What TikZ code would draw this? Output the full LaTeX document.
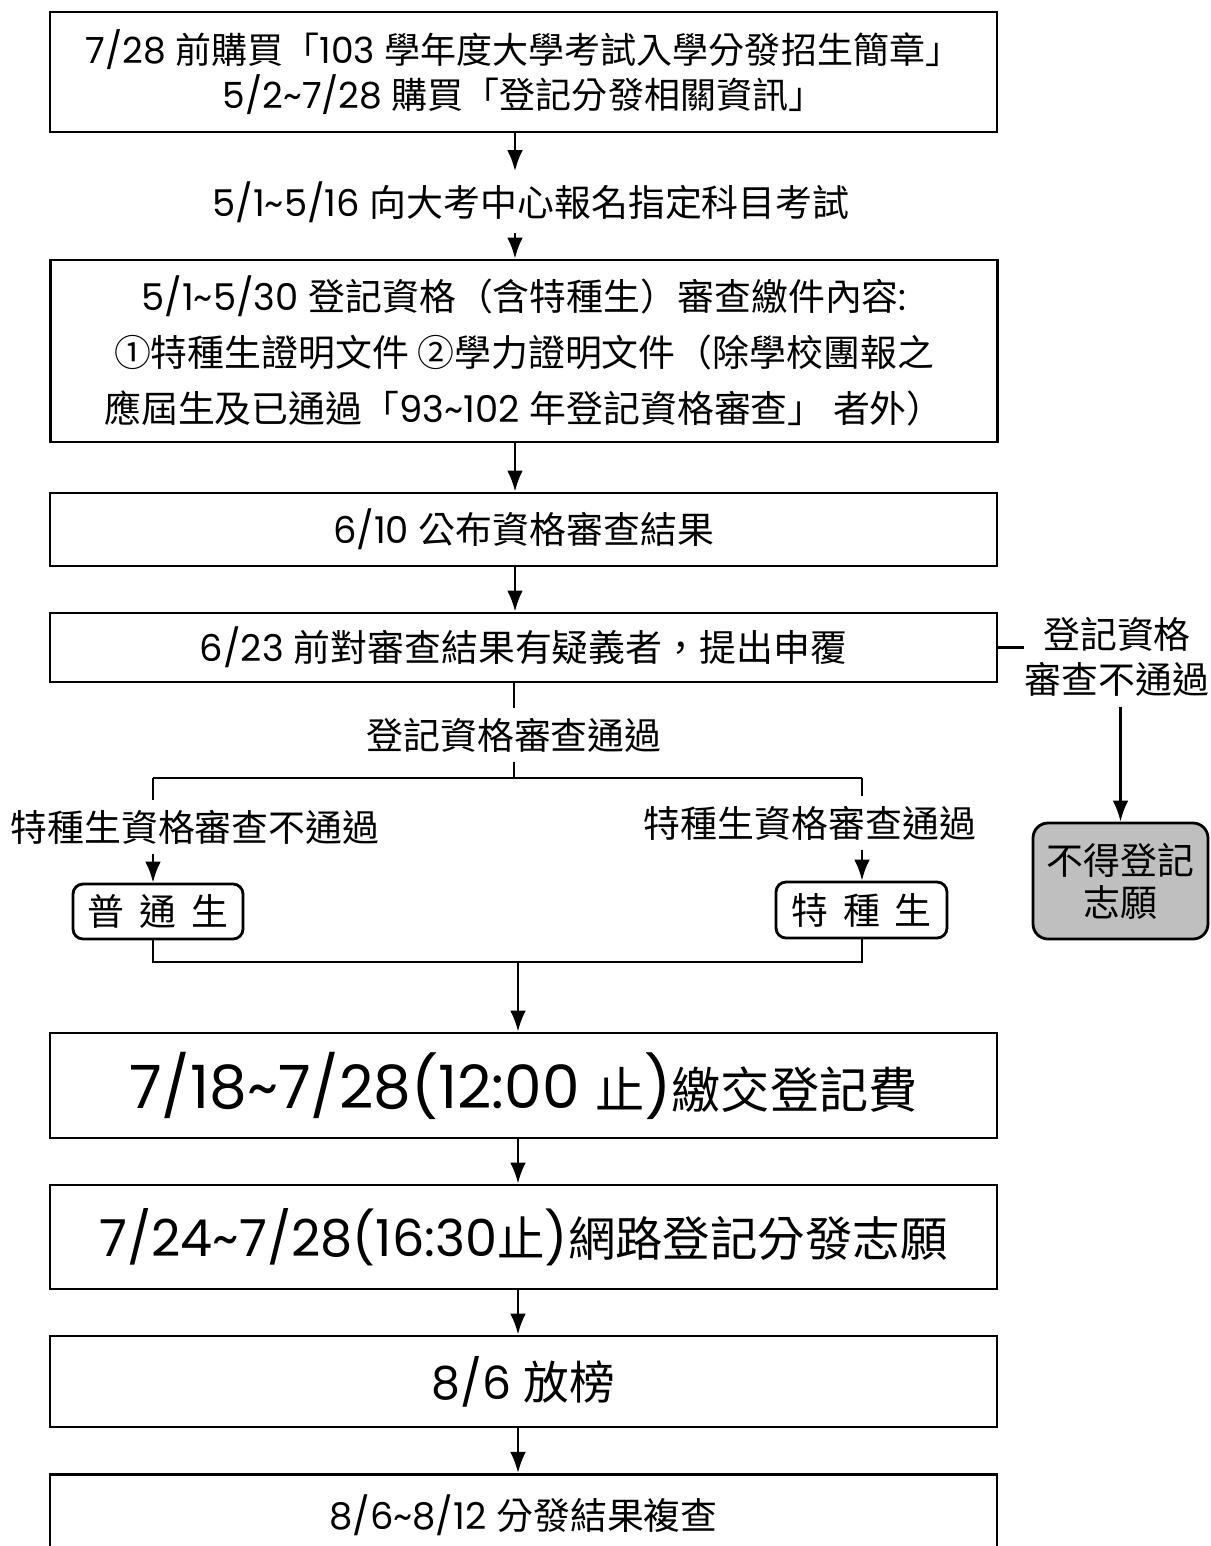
\documentclass[tikz,border=0pt]{standalone}
\usepackage{fontspec}
\setmainfont{Poppins}
\newfontfamily\cjkfont{Noto Sans CJK TC}
\newcommand\C[1]{{\cjkfont #1}}
\usetikzlibrary{arrows.meta}
\definecolor{boxgray}{RGB}{191,191,191}
\begin{document}
\begin{tikzpicture}[x=0.02cm,y=-0.02cm,
  every node/.style={font=\fontsize{21}{25}\selectfont},
  box/.style={draw, line width=1.6pt, minimum width=18.94cm, align=center, inner sep=0pt},
  rbox/.style={draw, line width=1.6pt, rounded corners=0.2cm, align=center, inner sep=0pt},
  lbl/.style={inner xsep=0pt, inner ysep=0.2cm, align=center},
  conn/.style={line width=1.5pt},
  arr/.style={conn, -{Latex[length=12pt,width=9pt]}}
]
\clip (0,0) rectangle (1211,1546);
\coordinate (ax) at (515,0);
\coordinate (vx) at (518,962);
\coordinate (jL) at (153,778);
\coordinate (jR) at (862,778);
\coordinate (kL) at (153,962);
\coordinate (kR) at (862,962);

\node[box, minimum height=2.4cm, font=\fontsize{20.5}{25.6}\selectfont] (b1) at (523.5,72)
  {7/28 \C{前購買「}103 \C{學年度大學考試入學分發招生簡章」}\\5/2\textasciitilde7/28 \C{購買「登記分發相關資訊」}};
\node[lbl] (l1) at (531,202) {5/1\textasciitilde5/16 \C{向大考中心報名指定科目考試}};
\node[box, minimum height=3.64cm, font=\fontsize{21}{32}\selectfont] (b2) at (524,351)
  {5/1\textasciitilde5/30 \C{登記資格（含特種生）審查繳件內容}:\\
   \C{①特種生證明文件 ②學力證明文件（除學校團報之}\\
   \C{應屆生及已通過「}93\textasciitilde102 \C{年登記資格審查」 者外）}};
\node[box, minimum height=1.46cm] (b3) at (523.5,529.5) {6/10 \C{公布資格審查結果}};
\node[box, minimum height=1.38cm] (b4) at (523.5,647.5) {6/23 \C{前對審查結果有疑義者，提出申覆}};
\node[lbl, font=\fontsize{21}{25.6}\selectfont] (rej) at (1117,657) {\C{登記資格}\\\C{審查不通過}};
\node[rbox, fill=boxgray, minimum width=3.5cm, minimum height=2.32cm, rounded corners=0.3cm,
  font=\fontsize{21}{24}\selectfont] (no) at (1120.5,881) {\C{不得登記}\\\C{志願}};
\node[lbl] (mid) at (514,735) {\C{登記資格審查通過}};
\node[lbl] (ll) at (195,827) {\C{特種生資格審查不通過}};
\node[lbl] (rl) at (810,823) {\C{特種生資格審查通過}};
\node[rbox, minimum width=3.4cm, minimum height=1.1cm] (pt) at (158,911.5) {\C{普\hspace{0.4em}通\hspace{0.4em}生}};
\node[rbox, minimum width=3.42cm, minimum height=1.12cm] (sp) at (861.5,910) {\C{特\hspace{0.4em}種\hspace{0.4em}生}};
\node[box, minimum height=2.1cm] (b5) at (523.5,1085.5)
  {{\fontsize{34}{40}\selectfont 7/18\textasciitilde7/28(12:00 }{\fontsize{28}{32}\selectfont\C{止}}{\fontsize{34}{40}\selectfont)}{\fontsize{28}{32}\selectfont\C{繳交登記費}}};
\node[box, minimum height=2.08cm] (b6) at (523.5,1237)
  {{\fontsize{29}{34}\selectfont 7/24\textasciitilde7/28(16:30}{\fontsize{27}{32}\selectfont\C{止}}{\fontsize{29}{34}\selectfont)}{\fontsize{27}{32}\selectfont\C{網路登記分發志願}}};
\node[box, minimum height=1.82cm, font=\fontsize{26}{30}\selectfont] (b7) at (523.5,1381.5) {8/6 \C{放榜}};
\node[box, anchor=north, text height=0.8cm, text depth=3cm, inner ysep=0.3cm] (b8) at (523.5,1473)
  {8/6\textasciitilde8/12 \C{分發結果複查}};

\draw[arr] (b1.south -| ax) -- (l1.north -| ax);
\draw[arr] (l1.south -| ax) -- (b2.north -| ax);
\draw[arr] (b2.south -| ax) -- (b3.north -| ax);
\draw[arr] (b3.south -| ax) -- (b4.north -| ax);
\draw[conn] (b4.east) -- (b4.east -| rej.west);
\draw[arr] (rej.south -| no) -- (no.north);
\draw[conn] (b4.south -| mid) -- (mid.north);
\draw[conn] (mid.south) -- (mid.south |- jL);
\draw[conn] (jL) -- (jR);
\draw[conn] (jL) -- (jL |- ll.north);
\draw[arr] (jL |- ll.south) -- (jL |- pt.north);
\draw[conn] (jR) -- (jR |- rl.north);
\draw[arr] (jR |- rl.south) -- (jR |- sp.north);
\draw[conn] (pt.south -| kL) -- (kL) -- (kR) -- (sp.south -| kR);
\draw[arr] (vx) -- (b5.north -| vx);
\draw[arr] (b5.south -| vx) -- (b6.north -| vx);
\draw[arr] (b6.south -| vx) -- (b7.north -| vx);
\draw[arr] (b7.south -| vx) -- (b8.north -| vx);
\end{tikzpicture}
\end{document}
